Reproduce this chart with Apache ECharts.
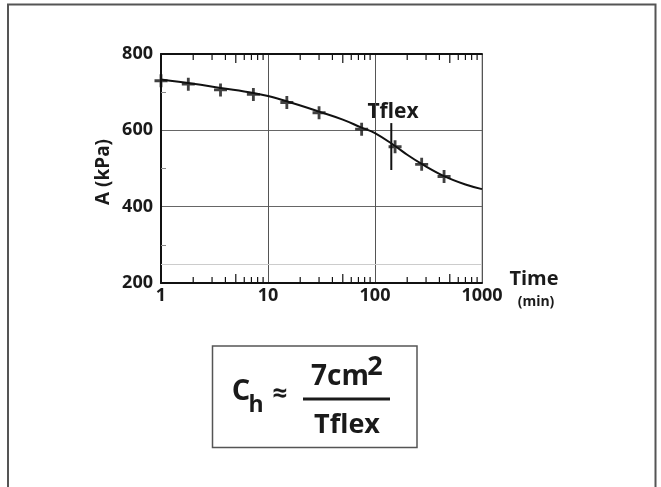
<!DOCTYPE html>
<html>
<head>
<meta charset="UTF-8">
<title>Tflex</title>
<script src="https://cdn.jsdelivr.net/npm/echarts@6/dist/echarts.min.js"></script>
<style>
    html, body { margin: 0; padding: 0; background: #fff; }
    #chart { width: 661px; height: 487px; }
</style>
</head>
<body>
<div id="chart"></div>
<script>
// measured points (time in min, A in kPa)
const measTime = [1, 1.8, 3.6, 7.3, 15, 30, 75, 154, 273, 442];
const measA = [730, 721, 706, 694, 673, 646, 603, 557, 511, 479];

// fitted curve
const curveTime = [1, 2, 3.6, 7.3, 10, 15, 30, 50, 75, 100, 154, 200, 273, 442, 700, 1000];
const curveA = [733, 722, 711, 698, 690, 676, 649, 628, 607, 593, 559, 536, 512, 480, 458, 446];

// inflection marker
const tflexTime = [142, 142];
const tflexA = [619, 496];

// log minor ticks and axis ticks
const minorTicks = [2, 3, 4, 5, 6, 7, 8, 9, 20, 30, 40, 50, 60, 70, 80, 90, 200, 300, 400, 500, 600, 700, 800, 900];
const yTicks = [200, 400, 600, 800];
const faintLine = 250;

const font = '"Open Sans", "DejaVu Sans", sans-serif';
const plus = 'path://M4.7,0H7.3V4.7H12V7.3H7.3V12H4.7V7.3H0V4.7H4.7Z';

const chart = echarts.init(document.getElementById('chart'));

const option = {
    animation: false,
    backgroundColor: '#fff',
    grid: {
        left: 161, right: 179, top: 54, bottom: 204,
        show: true, borderColor: '#999', borderWidth: 1
    },
    xAxis: [{
        type: 'log',
        logBase: 10,
        min: 1,
        max: 1000,
        axisLine: { lineStyle: { color: '#111', width: 2 } },
        axisTick: { show: false },
        axisLabel: {
            color: '#1a1a1a', fontFamily: font, fontWeight: 'bold', fontSize: 18, margin: 4,
            formatter: v => String(Math.round(v))
        },
        splitLine: { show: true, lineStyle: { color: '#555', width: 1 } }
    }, {
        type: 'log',
        logBase: 10,
        min: 1,
        max: 1000,
        position: 'top',
        axisLine: { lineStyle: { color: '#111', width: 2 } },
        axisTick: { show: false },
        axisLabel: { show: false },
        splitLine: { show: false }
    }],
    yAxis: {
        type: 'value',
        min: yTicks[0],
        max: yTicks[yTicks.length - 1],
        interval: 200,
        axisLine: { show: true, lineStyle: { color: '#111', width: 2 } },
        axisTick: { show: false, inside: true },
        minorTick: { show: true, splitNumber: 2, length: 5, lineStyle: { color: '#888' } },
        axisLabel: { color: '#1a1a1a', fontFamily: font, fontWeight: 'bold', fontSize: 18, margin: 8 },
        splitLine: { show: true, lineStyle: { color: '#666', width: 1 } }
    },
    series: [{
        type: 'line',
        data: curveTime.map((t, i) => [t, curveA[i]]),
        smooth: 0.4,
        showSymbol: false,
        lineStyle: { color: '#111', width: 2 },
        z: 3,
        markLine: {
            silent: true,
            symbol: 'none',
            label: { show: false },
            lineStyle: { color: '#ccc', width: 1, type: 'solid' },
            data: [{ yAxis: faintLine }]
        }
    }, {
        type: 'scatter',
        data: measTime.map((t, i) => [t, measA[i]]),
        symbol: plus,
        symbolSize: 13,
        itemStyle: { color: '#111' },
        z: 4
    }, {
        type: 'line',
        data: tflexTime.map((t, i) => [t, tflexA[i]]),
        showSymbol: false,
        lineStyle: { color: '#111', width: 2 },
        z: 4
    }, {
        type: 'custom',
        data: minorTicks.map(t => [t]),
        silent: true,
        z: 5,
        renderItem: function (params, api) {
            const t = api.value(0);
            const lead = Math.round(t / Math.pow(10, Math.floor(Math.log10(t))));
            const len = lead === 5 ? 9 : 6;
            const b = api.coord([t, yTicks[0]]);
            const top = api.coord([t, yTicks[yTicks.length - 1]]);
            const style = { stroke: '#111', lineWidth: 1.2 };
            return {
                type: 'group',
                children: [
                    { type: 'line', shape: { x1: b[0], y1: b[1], x2: b[0], y2: b[1] - len }, style: style },
                    { type: 'line', shape: { x1: top[0], y1: top[1], x2: top[0], y2: top[1] + len }, style: style }
                ]
            };
        }
    }],
    graphic: [
        // outer frame (open at the bottom)
        {
            type: 'polyline',
            shape: { points: [[8, 487], [8, 4.5], [655.5, 4.5], [655.5, 487]] },
            style: { stroke: '#555', lineWidth: 2, fill: null }
        },
        {
            type: 'text', x: 104, y: 172, rotation: Math.PI / 2,
            style: { text: 'A (kPa)', font: 'bold 19px ' + font, fill: '#1a1a1a', align: 'center', verticalAlign: 'middle' }
        },
        {
            type: 'text', x: 393, y: 112,
            style: { text: 'Tflex', font: 'bold 21px ' + font, fill: '#1a1a1a', align: 'center', verticalAlign: 'middle' }
        },
        {
            type: 'text', x: 534, y: 279,
            style: { text: 'Time', font: 'bold 20px ' + font, fill: '#1a1a1a', align: 'center', verticalAlign: 'middle' }
        },
        {
            type: 'text', x: 536, y: 302,
            style: { text: '(min)', font: 'bold 14px ' + font, fill: '#1a1a1a', align: 'center', verticalAlign: 'middle' }
        },
        // formula box
        {
            type: 'rect',
            shape: { x: 212.5, y: 346, width: 204.5, height: 101.5 },
            style: { stroke: '#555', lineWidth: 1.5, fill: '#fff' }
        },
        {
            type: 'text', x: 241, y: 392,
            style: { text: 'C', font: 'bold 29px ' + font, fill: '#1a1a1a', align: 'center', verticalAlign: 'middle' }
        },
        {
            type: 'text', x: 256, y: 405,
            style: { text: 'h', font: 'bold 23px ' + font, fill: '#1a1a1a', align: 'center', verticalAlign: 'middle' }
        },
        {
            type: 'text', x: 280, y: 395,
            style: { text: '≈', font: 'bold 26px ' + font, fill: '#1a1a1a', align: 'center', verticalAlign: 'middle' }
        },
        {
            type: 'text', x: 340, y: 377,
            style: { text: '7cm', font: 'bold 28px ' + font, fill: '#1a1a1a', align: 'center', verticalAlign: 'middle' }
        },
        {
            type: 'text', x: 375, y: 367,
            style: { text: '2', font: 'bold 27px ' + font, fill: '#1a1a1a', align: 'center', verticalAlign: 'middle' }
        },
        {
            type: 'line',
            shape: { x1: 303, y1: 399, x2: 390, y2: 399 },
            style: { stroke: '#1a1a1a', lineWidth: 3 }
        },
        {
            type: 'text', x: 347, y: 425,
            style: { text: 'Tflex', font: 'bold 27px ' + font, fill: '#1a1a1a', align: 'center', verticalAlign: 'middle' }
        }
    ]
};

chart.setOption(option);
</script>
</body>
</html>
